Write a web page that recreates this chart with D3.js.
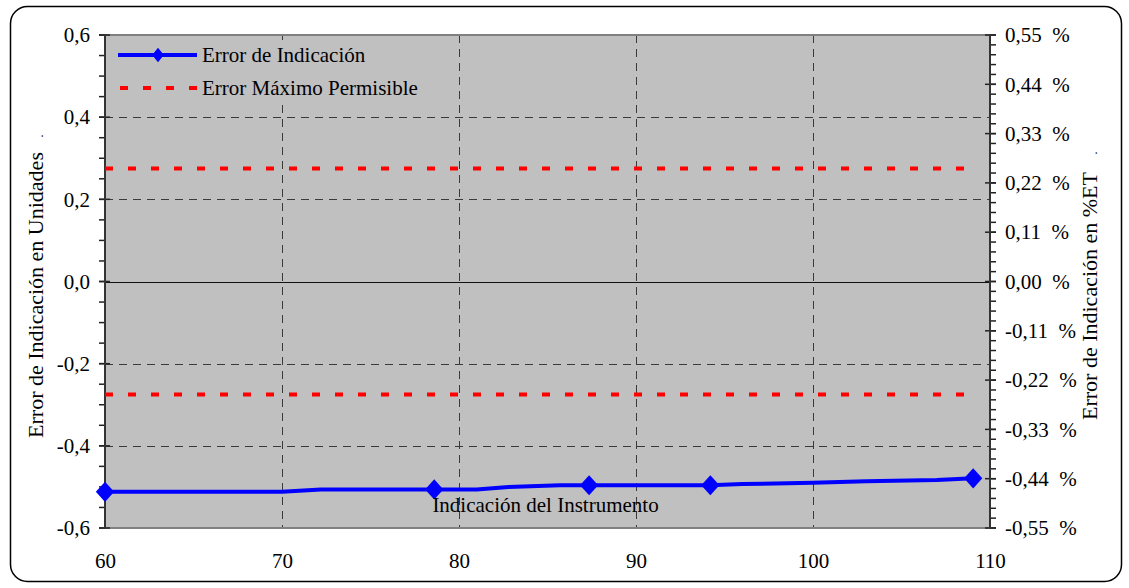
<!DOCTYPE html>
<html>
<head>
<meta charset="utf-8">
<title>Error de Indicación</title>
<script src="https://cdnjs.cloudflare.com/ajax/libs/d3/7.8.5/d3.min.js"></script>
<style>
  body { margin: 0; background: #fff; }
  text { font-family: "Liberation Serif", "Times New Roman", serif; fill: #000; }
</style>
</head>
<body>
<script>
// chart data
var lineX = [60, 70, 72.2, 78.6, 81, 82.8, 85.7, 87.35, 94.2, 96, 100, 103, 107, 109.05];
var lineY = [-0.512, -0.512, -0.506, -0.506, -0.506, -0.500, -0.496, -0.496, -0.496, -0.493, -0.490, -0.486, -0.483, -0.479];
var markX = [60, 78.6, 87.35, 94.2, 109.05];
var markY = [-0.512, -0.506, -0.496, -0.496, -0.479];
var empX = [60, 109.05];
var empUpper = [0.275, 0.275];
var empLower = [-0.275, -0.275];

var xTicks = [60, 70, 80, 90, 100, 110];
var yTicks = [-0.6, -0.4, -0.2, 0, 0.2, 0.4, 0.6];
var yRightTicks = [-0.55, -0.44, -0.33, -0.22, -0.11, 0, 0.11, 0.22, 0.33, 0.44, 0.55];
var legendNames = ["Error de Indicación", "Error Máximo Permisible"];

var w = 1129, h = 588;
var pLeft = 105, pRight = 990, pTop = 35, pBot = 528;
var fs = 21;

var svg = d3.select("body").append("svg")
    .attr("width", w)
    .attr("height", h);

// outer rounded frame
svg.append("rect")
    .attr("x", 10.5).attr("y", 6.5)
    .attr("width", 1111).attr("height", 575)
    .attr("rx", 17).attr("ry", 17)
    .attr("fill", "#fff")
    .attr("stroke", "#000")
    .attr("stroke-width", 1.5);

var x = d3.scaleLinear().domain([60, 110]).range([pLeft, pRight]);
var y = d3.scaleLinear().domain([-0.6, 0.6]).range([pBot, pTop]);
var yR = d3.scaleLinear().domain([-0.55, 0.55]).range([pBot, pTop]);

// plot area
svg.append("rect")
    .attr("x", pLeft).attr("y", pTop)
    .attr("width", pRight - pLeft).attr("height", pBot - pTop)
    .attr("fill", "#c0c0c0");

// grid
var grid = svg.append("g")
    .attr("stroke", "#3a3a3a")
    .attr("stroke-width", 1)
    .attr("stroke-dasharray", "8,6");
grid.selectAll("line.h")
    .data(yTicks.filter(function(d) { return d != 0 && Math.abs(d) < 0.6; }))
    .enter().append("line")
    .attr("x1", pLeft).attr("x2", pRight)
    .attr("y1", function(d) { return Math.round(y(d)) + 0.5; })
    .attr("y2", function(d) { return Math.round(y(d)) + 0.5; });
grid.selectAll("line.v")
    .data(xTicks.slice(1, -1))
    .enter().append("line")
    .attr("y1", pTop).attr("y2", pBot)
    .attr("x1", function(d) { return Math.round(x(d)) + 0.5; })
    .attr("x2", function(d) { return Math.round(x(d)) + 0.5; });

// zero line
svg.append("line")
    .attr("x1", pLeft).attr("x2", pRight)
    .attr("y1", Math.round(y(0)) + 0.5).attr("y2", Math.round(y(0)) + 0.5)
    .attr("stroke", "#111").attr("stroke-width", 1);

// top / bottom border of plot
svg.append("line").attr("x1", pLeft).attr("x2", pRight).attr("y1", pTop).attr("y2", pTop)
    .attr("stroke", "#808080").attr("stroke-width", 2);
svg.append("line").attr("x1", pLeft).attr("x2", pRight).attr("y1", pBot).attr("y2", pBot)
    .attr("stroke", "#808080").attr("stroke-width", 2);

// left axis
var yAxis = d3.axisLeft(y)
    .tickValues(yTicks)
    .tickSize(0)
    .tickPadding(15)
    .tickFormat(function(d) { return d3.format(".1f")(d).replace(".", ",").replace("−", "-"); });
var gL = svg.append("g").attr("transform", "translate(" + pLeft + ",0)").call(yAxis);
gL.select(".domain").remove();
gL.selectAll("text").attr("font-size", fs).attr("font-family", "Liberation Serif");

// minor ticks left
svg.append("g").selectAll("line")
    .data(d3.range(-0.6, 0.6001, 0.05))
    .enter().append("line")
    .attr("x1", pLeft - 6).attr("x2", pLeft)
    .attr("y1", function(d) { return y(d); }).attr("y2", function(d) { return y(d); })
    .attr("stroke", "#222").attr("stroke-width", 1.5);
svg.append("g").selectAll("line")
    .data(yTicks)
    .enter().append("line")
    .attr("x1", pLeft - 6).attr("x2", pLeft + 5)
    .attr("y1", function(d) { return y(d); }).attr("y2", function(d) { return y(d); })
    .attr("stroke", "#222").attr("stroke-width", 1.5);
svg.append("line").attr("x1", pLeft).attr("x2", pLeft).attr("y1", pTop).attr("y2", pBot)
    .attr("stroke", "#333").attr("stroke-width", 2);

// right axis
var yAxisR = d3.axisRight(yR)
    .tickValues(yRightTicks)
    .tickSize(0)
    .tickPadding(15)
    .tickFormat(function(d) { return d3.format(".2f")(d).replace(".", ",").replace("−", "-") + "\u2002%"; });
var gR = svg.append("g").attr("transform", "translate(" + pRight + ",0)").call(yAxisR);
gR.select(".domain").remove();
gR.selectAll("text").attr("font-size", fs).attr("font-family", "Liberation Serif");

svg.append("g").selectAll("line")
    .data(d3.range(-0.55, 0.5501, 0.022))
    .enter().append("line")
    .attr("x1", pRight).attr("x2", pRight + 6)
    .attr("y1", function(d) { return yR(d); }).attr("y2", function(d) { return yR(d); })
    .attr("stroke", "#222").attr("stroke-width", 1.5);
svg.append("g").selectAll("line")
    .data(yRightTicks)
    .enter().append("line")
    .attr("x1", pRight - 5).attr("x2", pRight + 6)
    .attr("y1", function(d) { return yR(d); }).attr("y2", function(d) { return yR(d); })
    .attr("stroke", "#222").attr("stroke-width", 1.5);
svg.append("line").attr("x1", pRight).attr("x2", pRight).attr("y1", pTop).attr("y2", pBot)
    .attr("stroke", "#333").attr("stroke-width", 2);

// bottom axis labels (no tick marks)
var xAxis = d3.axisBottom(x).tickValues(xTicks).tickSize(0).tickPadding(25)
    .tickFormat(d3.format("d"));
var gB = svg.append("g").attr("transform", "translate(0," + pBot + ")").call(xAxis);
gB.select(".domain").remove();
gB.selectAll("text").attr("font-size", fs).attr("font-family", "Liberation Serif");

// legend box hides the grid behind it
svg.append("rect")
    .attr("x", pLeft + 3).attr("y", 40)
    .attr("width", 335).attr("height", 61)
    .attr("fill", "#c0c0c0");

// EMP lines
var line = d3.line()
    .x(function(d) { return x(d[0]); })
    .y(function(d) { return y(d[1]); });
[empUpper, empLower].forEach(function(vals) {
    svg.append("path")
        .datum(empX.map(function(v, i) { return [v, vals[i]]; }))
        .attr("d", line)
        .attr("fill", "none")
        .attr("stroke", "#ff0000")
        .attr("stroke-width", 4)
        .attr("stroke-dasharray", "8,15");
});

// error of indication
svg.append("path")
    .datum(lineX.map(function(v, i) { return [v, lineY[i]]; }))
    .attr("d", line)
    .attr("fill", "none")
    .attr("stroke", "#0000ff")
    .attr("stroke-width", 4)
    .attr("stroke-linejoin", "round");

// diamond markers: rotated squares
var square = d3.symbol().type(d3.symbolSquare).size(185);
svg.selectAll("path.mk")
    .data(markX)
    .enter().append("path")
    .attr("class", "mk")
    .attr("d", square)
    .attr("transform", function(d, i) {
        return "translate(" + x(d) + "," + y(markY[i]) + ") scale(0.95,1.05) rotate(45)";
    })
    .attr("fill", "#0000ff");

// legend
var lg = svg.append("g");
lg.append("line").attr("x1", 118).attr("x2", 197).attr("y1", 55).attr("y2", 55)
    .attr("stroke", "#0000ff").attr("stroke-width", 4);
lg.append("path").attr("d", d3.symbol().type(d3.symbolSquare).size(85))
    .attr("transform", "translate(158,55) scale(0.9,1.1) rotate(45)").attr("fill", "#0000ff");
lg.append("line").attr("x1", 120).attr("x2", 197).attr("y1", 88).attr("y2", 88)
    .attr("stroke", "#ff0000").attr("stroke-width", 4).attr("stroke-dasharray", "8,15");
lg.selectAll("text")
    .data(legendNames)
    .enter().append("text")
    .attr("x", 202)
    .attr("y", function(d, i) { return 62 + i * 33; })
    .attr("font-size", fs)
    .text(function(d) { return d; });

// axis titles
svg.append("text")
    .attr("transform", "translate(" + (pLeft + (pRight - pLeft) * 0.5 - 2) + ",512)")
    .attr("text-anchor", "middle")
    .attr("font-size", fs)
    .text("Indicación del Instrumento");

svg.append("text")
    .attr("transform", "translate(43,295) rotate(-90)")
    .attr("text-anchor", "middle")
    .attr("font-size", 22)
    .text("Error de Indicación en Unidades");
svg.append("text")
    .attr("transform", "translate(43,136) rotate(-90)")
    .attr("text-anchor", "middle")
    .attr("font-size", 12)
    .text(".");

svg.append("text")
    .attr("transform", "translate(1097,296) rotate(-90)")
    .attr("text-anchor", "middle")
    .attr("font-size", 22)
    .text("Error de Indicación en %ET");
svg.append("text")
    .attr("transform", "translate(1097,153) rotate(-90)")
    .attr("text-anchor", "middle")
    .attr("font-size", 12)
    .text(".");
</script>
</body>
</html>
